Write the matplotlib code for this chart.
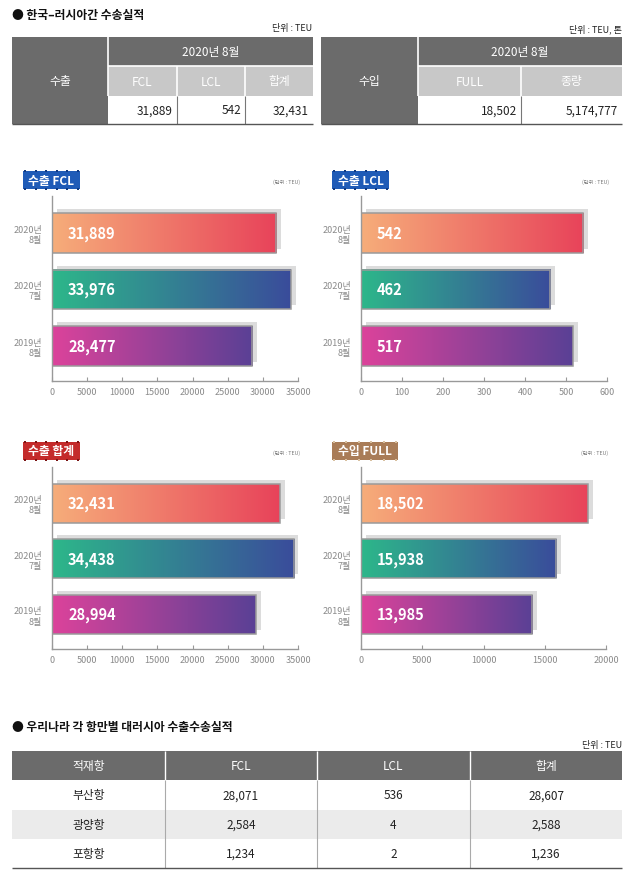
import matplotlib
matplotlib.use('Agg')
import matplotlib.pyplot as plt
import numpy as np
from matplotlib.colors import LinearSegmentedColormap
from matplotlib.patches import Rectangle
from matplotlib.transforms import offset_copy

plt.rcParams['font.family'] = ['Noto Sans CJK KR', 'DejaVu Sans']

# data
periods = ['2020년\n8월', '2020년\n7월', '2019년\n8월']
fcl = [31889, 33976, 28477]
lcl = [542, 462, 517]
total = [32431, 34438, 28994]
full = [18502, 15938, 13985]

exp_cols = ['FCL', 'LCL', '합계']
exp_vals = [31889, 542, 32431]
imp_cols = ['FULL', '종량']
imp_vals = [18502, 5174777]

port_head = ['적재항', 'FCL', 'LCL', '합계']
ports = ['부산항', '광양항', '포항항']
port_fcl = [28071, 2584, 1234]
port_lcl = [536, 4, 2]
port_total = [28607, 2588, 1236]

W, H = 625, 878
DARK = '#6b6b6b'
LIGHT = '#c8c8c8'
grads = [('#f6ad7a', '#e8435a'), ('#2db78a', '#3a4c9b'), ('#dc439b', '#5a4095')]

fig = plt.figure(figsize=(W / 100, H / 100), dpi=100)
bg = fig.add_axes([0, 0, 1, 1])
bg.set_xlim(0, W)
bg.set_ylim(H, 0)
bg.axis('off')


def rect(x0, y0, x1, y1, color, **kw):
    bg.add_patch(Rectangle((x0, y0), x1 - x0, y1 - y0, facecolor=color, edgecolor='none', **kw))


def line(x0, y0, x1, y1, color, lw=0.8):
    bg.plot([x0, x1], [y0, y1], color=color, lw=lw, solid_capstyle='butt')


# ---- top section
bg.text(12, 15, '● 한국–러시아간 수송실적', fontsize=8.5, fontweight='bold', va='center', color='#111')
bg.text(312, 29, '단위 : TEU', fontsize=6.5, ha='right', va='center', color='#222')
bg.text(622, 29, '단위 : TEU, 톤', fontsize=6.5, ha='right', va='center', color='#222')


def top_table(x0, xs, label, cols, vals):
    rows = [38, 67, 97, 125]
    rect(x0, rows[0], xs[0], rows[3], DARK)
    bg.text((x0 + xs[0]) / 2, (rows[0] + rows[3]) / 2, label, color='white', fontsize=8.5,
            ha='center', va='center')
    rect(xs[0], rows[0], xs[-1], rows[1], DARK)
    bg.text((xs[0] + xs[-1]) / 2, (rows[0] + rows[1]) / 2, '2020년 8월', color='white',
            fontsize=8.5, ha='center', va='center')
    rect(xs[0], rows[1], xs[-1], rows[2], LIGHT)
    for i, (c, v) in enumerate(zip(cols, vals)):
        a, b = xs[i], xs[i + 1]
        bg.text((a + b) / 2, (rows[1] + rows[2]) / 2, c, color='white', fontsize=8.5,
                ha='center', va='center')
        bg.text(b - 4, (rows[2] + rows[3]) / 2, f'{v:,}', color='#222', fontsize=8.5,
                ha='right', va='center')
        if i > 0:
            line(a, rows[1], a, rows[2], 'white', 1.2)
            line(a, rows[2], a, rows[3], '#777', 0.8)
    line(xs[0], rows[1], xs[-1], rows[1], 'white', 1.2)
    line(xs[0], rows[0], xs[0], rows[2], 'white', 1.2)
    line(x0, rows[3], xs[-1], rows[3], '#555', 1.0)


top_table(12, [108, 177, 245, 313], '수출', exp_cols, exp_vals)
top_table(321, [418, 521, 622], '수입', imp_cols, imp_vals)


# ---- bar charts
def badge(x0, y0, x1, y1, text, face, dots):
    rect(x0, y0, x1, y1, face)
    for xx in np.linspace(x0 + 2, x1 - 2, 6):
        rect(xx - 1, y0 - 1, xx + 1, y0 + 1, dots)
        rect(xx - 1, y1 - 1, xx + 1, y1 + 1, dots)
    bg.text((x0 + x1) / 2, (y0 + y1) / 2, text, color='white', fontsize=8.5,
            fontweight='bold', ha='center', va='center')


def bar_chart(px, py, vals, xmax, step, title, face, dots):
    l, r = px
    t, b = py
    ax = fig.add_axes([l / W, 1 - b / H, (r - l) / W, (b - t) / H])
    y = np.arange(len(vals))
    h = 0.7
    sh = offset_copy(ax.transData, fig=fig, x=5, y=4, units='dots')
    shadows = ax.barh(y, vals, height=h, color='#dcdcdc', zorder=1)
    for p in shadows:
        p.set_transform(sh)
    grad = np.linspace(0, 1, 256).reshape(1, -1)
    for yi, v, (c0, c1) in zip(y, vals, grads):
        cmap = LinearSegmentedColormap.from_list('g', [c0, c1])
        ax.imshow(grad, cmap=cmap, extent=[0, v, yi + h / 2, yi - h / 2], aspect='auto',
                  interpolation='bilinear', zorder=2)
        ax.annotate(f'{v:,}', xy=(0, yi), xytext=(16, 0), textcoords='offset pixels',
                    color='white', fontsize=10.5, fontweight='heavy', ha='left', va='center',
                    zorder=4)
    ax.barh(y, vals, height=h, facecolor='none', edgecolor='#9a9a9a', lw=1.1, zorder=3)
    ax.set_xlim(0, xmax)
    ax.set_ylim(2.62, -0.65)
    ax.set_xticks(np.arange(0, xmax + 1, step))
    ax.set_yticks(y)
    ax.set_yticklabels(periods, fontsize=6.5, color='#8a8a8a', linespacing=1.15)
    ax.tick_params(axis='x', labelsize=6.5, labelcolor='#8a8a8a', length=3, direction='in',
                   color='#999', pad=4)
    ax.tick_params(axis='y', length=0, pad=7)
    for s in ['top', 'right']:
        ax.spines[s].set_visible(False)
    for s in ['left', 'bottom']:
        ax.spines[s].set_color('#999')
        ax.spines[s].set_linewidth(1.0)
    ax.patch.set_alpha(0)
    bx = l - 29
    badge(bx, t - 25, bx + 57 + (9 if 'FULL' in title else 0), t - 7, title, face, dots)
    bg.text(r + 2, t - 15, '(단위 : TEU)', fontsize=3.8, color='#777', ha='right', va='center')
    return ax


bar_chart((52, 298), (197, 382), fcl, 35000, 5000, '수출 FCL', '#1f5bb7', '#123a80')
bar_chart((361, 607), (197, 382), lcl, 600, 100, '수출 LCL', '#1f5bb7', '#123a80')
bar_chart((52, 298), (468, 650), total, 35000, 5000, '수출 합계', '#c42b2b', '#7a1515')
bar_chart((361, 606), (468, 650), full, 20000, 5000, '수입 FULL', '#a97c57', '#d8c0a0')

# ---- bottom table
bg.text(12, 728, '● 우리나라 각 항만별 대러시아 수출수송실적', fontsize=8.5, fontweight='bold',
        va='center', color='#111')
bg.text(622, 746, '단위 : TEU', fontsize=6.5, ha='right', va='center', color='#222')
cx = [12, 165, 317, 470, 622]
ry = [752, 781, 811, 840, 869]
rect(cx[0], ry[0], cx[-1], ry[1], DARK)
rect(cx[0], ry[2], cx[-1], ry[3], '#ebebeb')
for j, hd in enumerate(port_head):
    bg.text((cx[j] + cx[j + 1]) / 2, (ry[0] + ry[1]) / 2, hd, color='white', fontsize=8.5,
            ha='center', va='center')
    if j > 0:
        line(cx[j], ry[0], cx[j], ry[1], 'white', 1.0)
        line(cx[j], ry[1], cx[j], ry[4], '#aaa', 0.8)
for i, name in enumerate(ports):
    cells = [name, f'{port_fcl[i]:,}', f'{port_lcl[i]:,}', f'{port_total[i]:,}']
    for j, c in enumerate(cells):
        bg.text((cx[j] + cx[j + 1]) / 2, (ry[i + 1] + ry[i + 2]) / 2, c, color='#222',
                fontsize=8.5, ha='center', va='center')
line(cx[0], ry[4], cx[-1], ry[4], '#555', 1.0)

fig.savefig('out.png', dpi=100)
